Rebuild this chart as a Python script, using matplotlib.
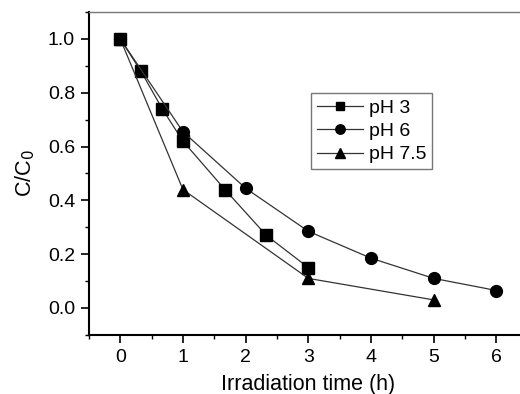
import matplotlib
matplotlib.use("Agg")
import matplotlib.pyplot as plt
from matplotlib.ticker import MultipleLocator, FormatStrFormatter

# data
t_ph3 = [0, 0.33, 0.67, 1, 1.67, 2.33, 3]
c_ph3 = [1.0, 0.88, 0.74, 0.62, 0.44, 0.27, 0.15]
t_ph6 = [0, 1, 2, 3, 4, 5, 6]
c_ph6 = [1.0, 0.655, 0.445, 0.285, 0.185, 0.11, 0.065]
t_ph75 = [0, 1, 3, 5]
c_ph75 = [1.0, 0.44, 0.11, 0.03]

plt.rcParams['font.family'] = ['Liberation Sans', 'DejaVu Sans']

fig = plt.figure(figsize=(5.2, 3.94), dpi=100)
ax = fig.add_axes([0.171, 0.150, 0.844, 0.8195])

line_kw = dict(color='#333333', linewidth=0.9, markerfacecolor='black', markeredgecolor='black')
ax.plot(t_ph3, c_ph3, marker='s', markersize=8, label='pH 3', **line_kw)
ax.plot(t_ph6, c_ph6, marker='o', markersize=8.5, label='pH 6', **line_kw)
ax.plot(t_ph75, c_ph75, marker='^', markersize=9, label='pH 7.5', **line_kw)

ax.set_xlim(-0.5, 6.5)
ax.set_ylim(-0.1, 1.1)
ax.xaxis.set_major_locator(MultipleLocator(1))
ax.xaxis.set_minor_locator(MultipleLocator(0.5))
ax.yaxis.set_major_locator(MultipleLocator(0.2))
ax.yaxis.set_minor_locator(MultipleLocator(0.1))
ax.yaxis.set_major_formatter(FormatStrFormatter('%.1f'))

ax.tick_params(which='major', direction='out', length=6, width=1.2, labelsize=14, pad=4)
ax.tick_params(which='minor', direction='out', length=3, width=1.0)
ax.tick_params(top=False, right=False)

ax.spines['left'].set_linewidth(1.5)
ax.spines['bottom'].set_linewidth(1.5)
ax.spines['top'].set_linewidth(1.0)
ax.spines['top'].set_color('#777777')
ax.spines['right'].set_visible(False)

ax.set_xlabel('Irradiation time (h)', fontsize=15.5, labelpad=6)
ax.set_ylabel('C/C$_0$', fontsize=15.5, labelpad=8)

leg = ax.legend(loc='upper left', bbox_to_anchor=(0.5055, 0.749), fontsize=14, frameon=True,
                fancybox=False, edgecolor='#555555', handlelength=2.4, handletextpad=0.3,
                borderpad=0.3, labelspacing=0.3, borderaxespad=0, markerscale=0.8)
leg.get_frame().set_linewidth(1.0)

fig.savefig('out.png', dpi=100)
